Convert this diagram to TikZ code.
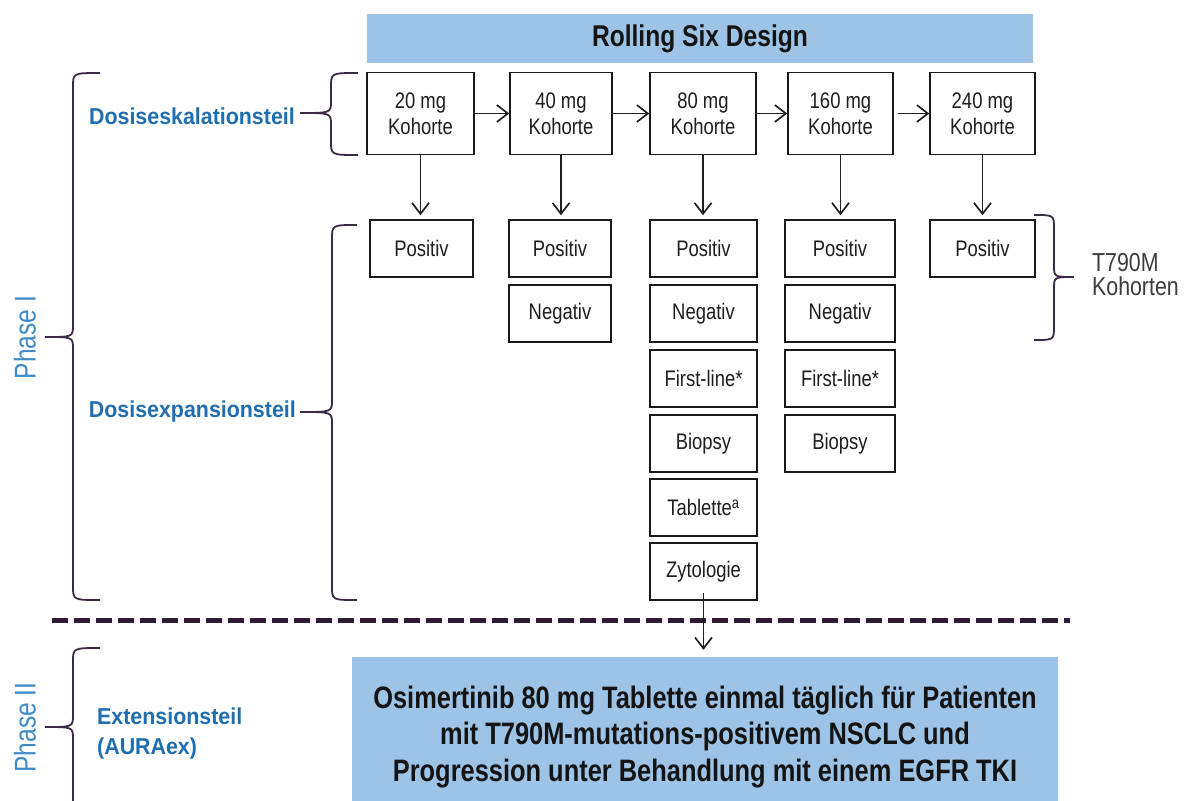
\documentclass[tikz,border=0pt]{standalone}
\usepackage{fontspec}
\setmainfont{Liberation Sans}
\newfontfamily\narrowsf[FakeStretch=0.82]{Liberation Sans}
\newfontfamily\labelsf[FakeStretch=0.93]{Liberation Sans}
\usetikzlibrary{arrows.meta}

\definecolor{barblue}{HTML}{9DC3E6}
\definecolor{labelblue}{HTML}{1F6EB0}
\definecolor{phaseblue}{HTML}{3F8BC9}
\definecolor{bracecol}{HTML}{3A2A43}
\definecolor{boxtext}{HTML}{1E1E1E}
\definecolor{sidegray}{HTML}{3C3C3C}
\definecolor{dashcol}{HTML}{2D1B36}

% curly brace: #1 end x, #2 spine x, #3 tip x, #4 top y, #5 tip y, #6 bottom y
\newcommand\curlybrace[6]{%
  \draw[brc] (#1,#4) .. controls (#2,#4) .. (#2,{#4+14})
    -- (#2,{#5-12}) .. controls (#2,#5) .. (#3,#5)
    .. controls (#2,#5) .. (#2,{#5+12})
    -- (#2,{#6-14}) .. controls (#2,#6) .. (#1,#6);}

\begin{document}
\begin{tikzpicture}[x=1pt,y=-1pt,
  box/.style={draw=black!90, line width=1.5pt, fill=white, inner sep=0pt,
    align=center, text=boxtext, font=\narrowsf\fontsize{22.5}{26}\selectfont},
  cell/.style={box, minimum height=57},
  barnode/.style={fill=barblue, inner sep=0pt, align=center, text=black!92},
  arr/.style={line width=1.7pt, draw=black!88,
    -{Straight Barb[length=11pt,width=17pt]}},
  brc/.style={draw=bracecol, line width=1.8pt},
  bluelabel/.style={text=labelblue, inner sep=0pt,
    font=\labelsf\bfseries\fontsize{23}{30}\selectfont},
  phaselabel/.style={text=phaseblue, inner sep=0pt, rotate=90,
    font=\narrowsf\fontsize{30}{32}\selectfont}]

\useasboundingbox (0,0) rectangle (1187,801);

% title bar
\node[barnode, minimum width=666, minimum height=49,
  font=\narrowsf\bfseries\fontsize{30}{32}\selectfont] (title) at (700,38.5) {Rolling Six Design};

% dose escalation cohorts
\node[box, minimum width=107, minimum height=82] (k20)  at (420.5,113.5) {20 mg\\Kohorte};
\node[box, minimum width=102, minimum height=82] (k40)  at (561,113.5) {40 mg\\Kohorte};
\node[box, minimum width=106, minimum height=82] (k80)  at (703,113.5) {80 mg\\Kohorte};
\node[box, minimum width=105, minimum height=82] (k160) at (840.5,113.5) {160 mg\\Kohorte};
\node[box, minimum width=105, minimum height=82] (k240) at (982.5,113.5) {240 mg\\Kohorte};

\draw[arr] (k20) -- (k40);
\draw[arr] (k40) -- (k80);
\draw[arr] (k80) -- (k160);
\draw[arr, shorten <=4pt] (k160) -- (k240);

% dose expansion cohorts
\node[cell, minimum width=103] (p20)  at (421.5,248.5) {Positiv};
\node[cell, minimum width=102] (p40)  at (560,248.5) {Positiv};
\node[cell, minimum width=107] (p80)  at (703.5,248.5) {Positiv};
\node[cell, minimum width=110] (p160) at (840,248.5) {Positiv};
\node[cell, minimum width=105] (p240) at (982.5,248.5) {Positiv};

\node[cell, minimum width=102] (n40)  at (560,313.5) {Negativ};
\node[cell, minimum width=107] (n80)  at (703.5,313.5) {Negativ};
\node[cell, minimum width=110] (n160) at (840,313.5) {Negativ};

\node[cell, minimum width=107] (f80)  at (703.5,378.5) {First-line*};
\node[cell, minimum width=110] (f160) at (840,378.5) {First-line*};

\node[cell, minimum width=107] (b80)  at (703.5,443.5) {Biopsy};
\node[cell, minimum width=110] (b160) at (840,443.5) {Biopsy};

\node[cell, minimum width=107] (tab)  at (703.5,507.5) {Tablette\textsuperscript{a}};
\node[cell, minimum width=107] (zyt)  at (703.5,571.5) {Zytologie};

\foreach \a/\b in {k20/p20,k40/p40,k80/p80,k160/p160,k240/p240}
  \draw[arr, shorten >=4pt] (\a.south) -- (\a.south |- \b.north);

% phase separator
\coordinate (sepL) at (52,620);
\coordinate (sepR) at (1070,620);
\draw[draw=dashcol, line width=5pt, dash pattern=on 16pt off 6pt] (sepL) -- (sepR);

% extension part
\node[barnode, minimum width=706, minimum height=160,
  font=\narrowsf\bfseries\fontsize{31}{36.5}\selectfont] (osi) at (705,737)
  {Osimertinib 80 mg Tablette einmal täglich für Patienten\\
   mit T790M-mutations-positivem NSCLC und\\
   Progression unter Behandlung mit einem EGFR TKI};

\draw[arr, shorten >=7pt] ([yshift=8pt]zyt.south) -- (zyt.south |- osi.north);

% braces
\curlybrace{100}{73}{45}{73}{337}{600}
\curlybrace{358}{331}{300}{73}{113}{155}
\curlybrace{357}{332}{300}{225}{412}{600}
\curlybrace{1034}{1054}{1074}{215}{277}{340}
\curlybrace{100}{73}{45}{648}{727}{900}

% labels
\node[phaselabel] (ph1) at (25,337.5) {Phase I};
\node[phaselabel] (ph2) at (25,727.5) {Phase II};
\node[bluelabel, anchor=east] (esk) at (295,116) {Dosiseskalationsteil};
\node[bluelabel, anchor=east] (exp) at (296,411.5) {Dosisexpansionsteil};
\node[bluelabel, anchor=west, align=left] (ext) at (97,734) {Extensionsteil\\(AURAex)};
\node[anchor=west, align=left, inner sep=0pt, text=sidegray,
  font=\narrowsf\fontsize{26}{24}\selectfont] (t790) at (1092,274.5) {T790M\\Kohorten};

\end{tikzpicture}
\end{document}
